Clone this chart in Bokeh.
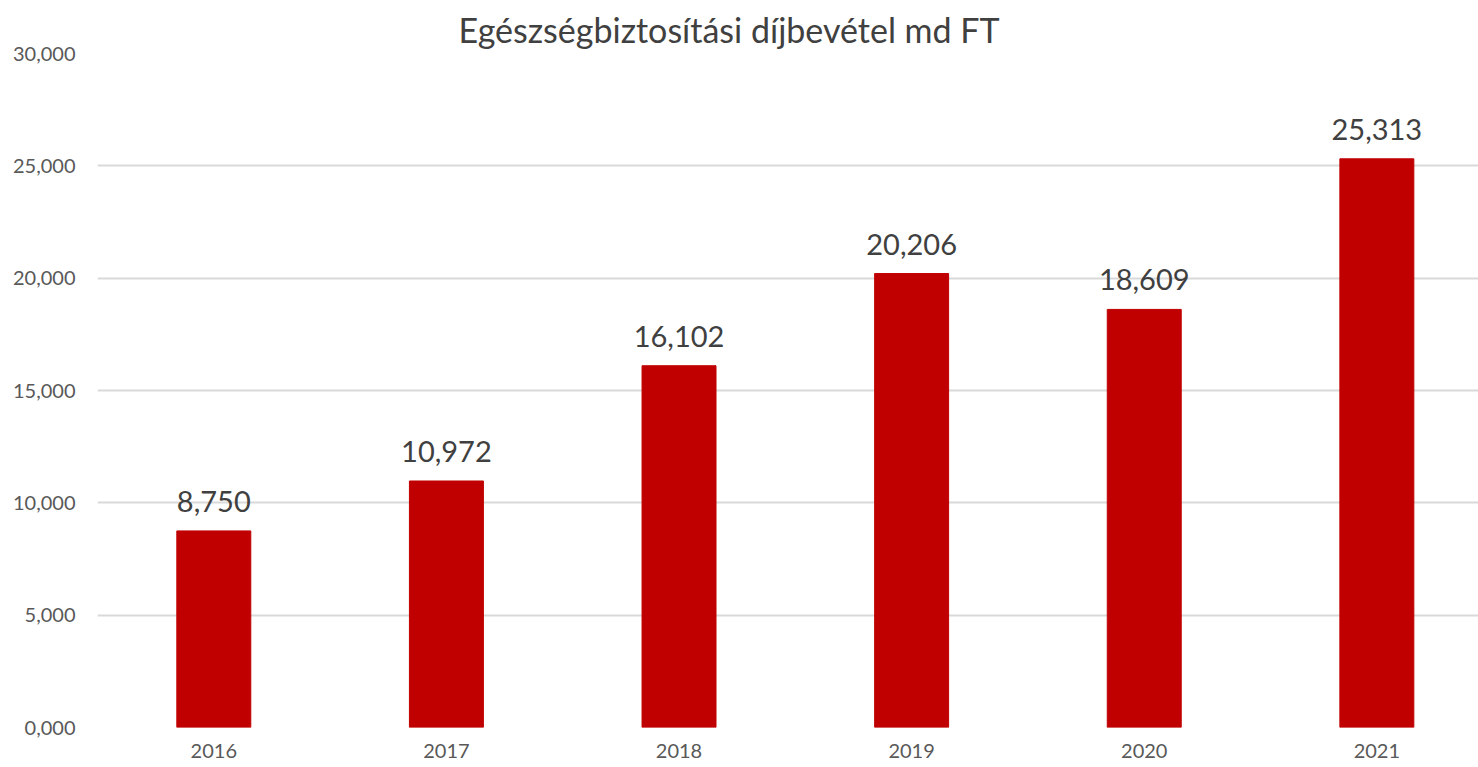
from bokeh.plotting import figure
from bokeh.models import ColumnDataSource, FixedTicker, Range1d
from bokeh.core.properties import value
from bokeh.embed import file_html
from bokeh.resources import INLINE

years = ["2016", "2017", "2018", "2019", "2020", "2021"]
values = [8750, 10972, 16102, 20206, 18609, 25313]
value_labels = ["8,750", "10,972", "16,102", "20,206", "18,609", "25,313"]
y_ticks = [0, 5000, 10000, 15000, 20000, 25000, 30000]
y_tick_labels = ["0,000", "5,000", "10,000", "15,000", "20,000", "25,000", "30,000"]
title_text = "Egészségbiztosítási díjbevétel md FT"

FONT = "Lato"

xpos = [i + 0.5 for i in range(len(years))]
src = ColumnDataSource(dict(x=xpos, top=values, lab=value_labels))

p = figure(x_range=Range1d(0, 5.937), y_range=Range1d(0, 30000),
           width=1478, height=767, output_backend="svg", toolbar_location=None,
           min_border_left=97, min_border_right=0, min_border_top=53, min_border_bottom=40)

p.vbar(x="x", top="top", width=0.318, source=src, color="#c00000")
p.text(x="x", y="top", text="lab", source=src, text_align="center", text_baseline="bottom",
       y_offset=-19, text_font=value(FONT), text_font_size="29px", text_color="#404040")

p.title.text = title_text
p.title.text_font = FONT
p.title.text_font_size = "34px"
p.title.text_font_style = "normal"
p.title.text_color = "#404040"
p.title.align = "left"
p.title.offset = 361
p.title.standoff = 8

p.outline_line_color = None
p.xgrid.grid_line_color = None
p.ygrid.grid_line_color = "#d9d9d9"
p.ygrid.grid_line_width = 2
p.ygrid.ticker = FixedTicker(ticks=y_ticks)

p.yaxis.ticker = FixedTicker(ticks=y_ticks)
p.yaxis.major_label_overrides = {t: l for t, l in zip(y_ticks, y_tick_labels)}
p.yaxis.axis_line_color = None
p.yaxis.major_tick_line_color = None
p.yaxis.minor_tick_line_color = None
p.yaxis.major_label_text_font = FONT
p.yaxis.major_label_text_font_size = "20px"
p.yaxis.major_label_text_color = "#595959"
p.yaxis.major_label_standoff = 16

p.xaxis.ticker = FixedTicker(ticks=xpos)
p.xaxis.major_label_overrides = {x: y for x, y in zip(xpos, years)}
p.xaxis.axis_line_color = None
p.xaxis.major_tick_line_color = None
p.xaxis.minor_tick_line_color = None
p.xaxis.major_label_text_font = FONT
p.xaxis.major_label_text_font_size = "20px"
p.xaxis.major_label_text_color = "#595959"
p.xaxis.major_label_standoff = 10

open("out.html", "w").write(file_html(p, INLINE))
